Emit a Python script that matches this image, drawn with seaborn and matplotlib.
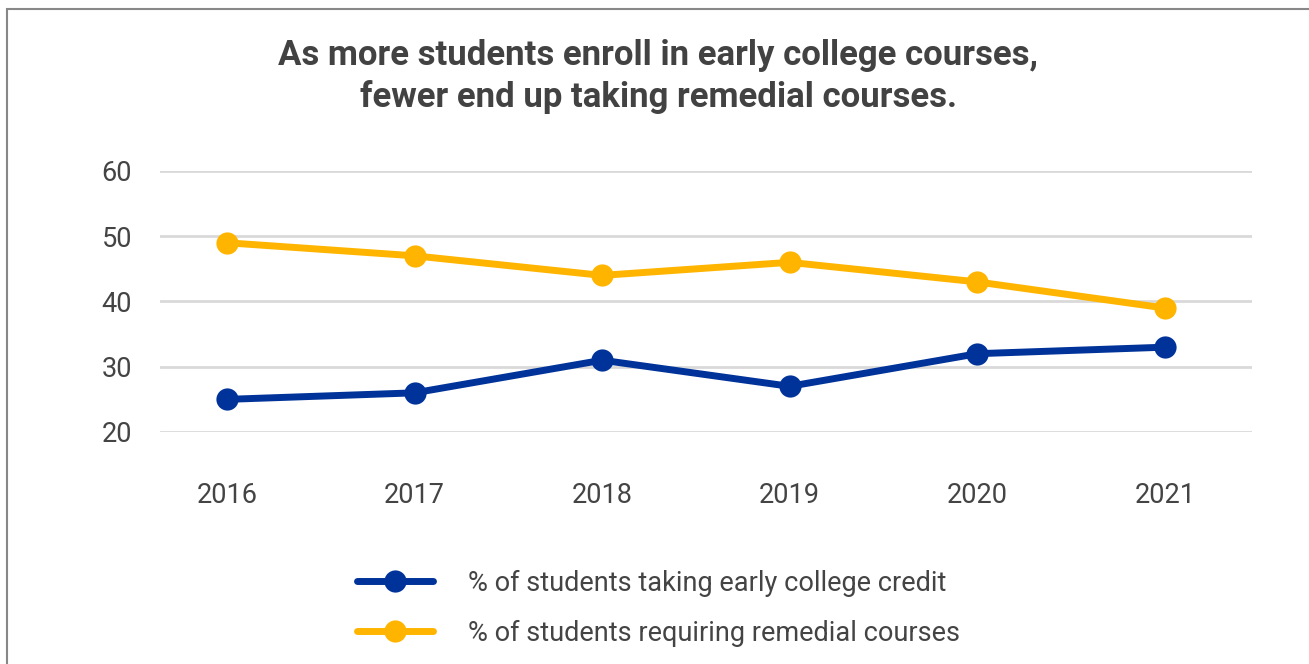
import pandas as pd
import seaborn as sns
import matplotlib.pyplot as plt
from matplotlib.patches import Rectangle

# Data
years = [2016, 2017, 2018, 2019, 2020, 2021]
early_college = [25, 26, 31, 27, 32, 33]
remedial = [49, 47, 44, 46, 43, 39]
labels = ["% of students taking early college credit",
          "% of students requiring remedial courses"]
title = "As more students enroll in early college courses,\nfewer end up taking remedial courses."

df = pd.DataFrame({
    "year": years * 2,
    "value": early_college + remedial,
    "series": [labels[0]] * len(years) + [labels[1]] * len(years),
})

sns.set_theme(style="white")
plt.rcParams['font.family'] = ['Roboto', 'DejaVu Sans']

fig = plt.figure(figsize=(13.09, 6.64), dpi=100)
ax = fig.add_axes([0.1222, 0.3494, 0.8342, 0.3931])

palette = {labels[0]: "#003399", labels[1]: "#FFB500"}
sns.lineplot(data=df, x="year", y="value", hue="series", palette=palette,
             marker="o", markersize=16, markeredgewidth=0, linewidth=5,
             ax=ax, legend=False, clip_on=False)

ax.set_xlim(years[0] - 0.357, years[-1] + 0.464)
ax.set_ylim(20, 60)
ax.set_yticks([20, 30, 40, 50, 60])
ax.set_xticks(years)
ax.set_xticklabels([str(y) for y in years])
ax.set_xlabel("")
ax.set_ylabel("")
ax.xaxis.grid(False)
ax.yaxis.grid(True, color="#d9d9d9", linewidth=2)
ax.set_axisbelow(True)
for s in ax.spines.values():
    s.set_visible(False)
ax.tick_params(axis="y", labelsize=19.5, colors="#444444", length=0, pad=20)
ax.tick_params(axis="x", labelsize=19.5, colors="#444444", length=0, pad=36)

fig.text(0.503, 0.885, title, ha="center", va="center", fontsize=25,
         fontweight="bold", color="#424242", linespacing=1.3)

# legend
handles = [plt.Line2D([], [], color=palette[l], linewidth=5, marker="o",
                      markersize=16, markeredgewidth=0, solid_capstyle="round")
           for l in labels]
leg = fig.legend(handles, labels, loc="center left", bbox_to_anchor=(0.254, 0.084),
                 frameon=False, handlelength=2.8, handletextpad=1.3,
                 labelspacing=0.85, labelcolor="#444444",
                 prop={"size": 19.5})

# frame
fig.patches.append(Rectangle((7 / 1309, -0.1), 1.2, 1 - 9 / 664 + 0.1,
                             transform=fig.transFigure, fill=False,
                             edgecolor="#888888", linewidth=1.5))

fig.savefig("out.png", dpi=100)
